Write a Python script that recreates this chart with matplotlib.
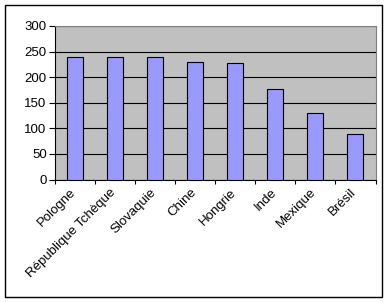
import matplotlib.pyplot as plt
from matplotlib.patches import Rectangle
from matplotlib.transforms import ScaledTranslation

# Données du graphique
pays = ["Pologne", "République Tchèque", "Slovaquie", "Chine", "Hongrie",
        "Inde", "Mexique", "Brésil"]
valeurs = [240, 240, 240, 229, 227, 176, 129, 88]
yticks = [0, 50, 100, 150, 200, 250, 300]

plt.rcParams['font.family'] = ['Liberation Sans', 'DejaVu Sans']

fig = plt.figure(figsize=(3.89, 3.02), dpi=100)
fig.patch.set_facecolor('white')
# cadre autour de la figure
fig.patches.append(Rectangle((5 / 389, 1 - 297 / 302), 377 / 389, 292 / 302,
                             transform=fig.transFigure, fill=False,
                             edgecolor='black', linewidth=1))

ax = fig.add_axes([55 / 389, 1 - 179.5 / 302, 320.5 / 389, 153.5 / 302])
ax.set_facecolor('#C0C0C0')
x = range(len(pays))
ax.bar(x, valeurs, width=0.4, color='#9999FF', edgecolor='black',
       linewidth=0.8, zorder=3)

ax.set_xlim(-0.5, len(pays) - 0.5)
ax.set_ylim(0, 300)
ax.set_yticks(yticks)
ax.yaxis.grid(True, color='black', linewidth=0.8, zorder=1)
ax.set_axisbelow(True)

ax.set_xticks([i - 0.5 for i in range(len(pays) + 1)], minor=False)
ax.set_xticklabels([])
ax.set_xticks(list(x), minor=True)
ax.set_xticklabels(pays, minor=True, rotation=45, ha='right',
                   rotation_mode='anchor', fontsize=9.5)
ax.tick_params(axis='x', which='minor', length=0, pad=5)
ax.tick_params(axis='x', which='major', length=3, width=0.8, direction='out')
ax.tick_params(axis='y', length=4, width=0.8, labelsize=9.5, pad=2)

# décaler un peu les étiquettes vers la gauche
decal = ScaledTranslation(-5 / 100, 0, fig.dpi_scale_trans)
for lab in ax.get_xticklabels(minor=True):
    lab.set_transform(lab.get_transform() + decal)

for s in ['top', 'right']:
    ax.spines[s].set_color('#808080')
    ax.spines[s].set_linewidth(0.8)
for s in ['left', 'bottom']:
    ax.spines[s].set_color('black')
    ax.spines[s].set_linewidth(0.8)

fig.savefig('out.png', dpi=100)
